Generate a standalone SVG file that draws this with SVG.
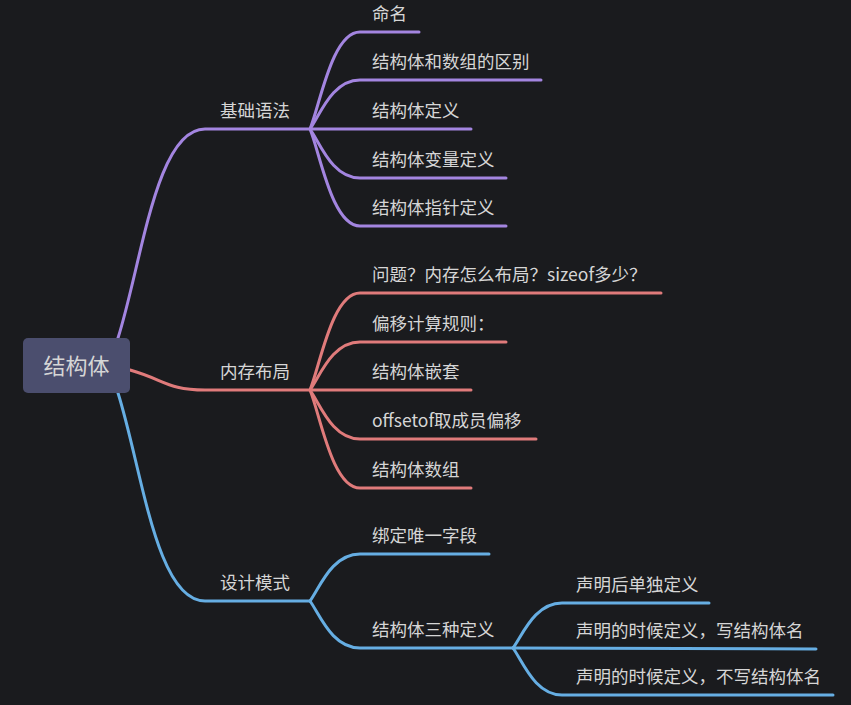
<svg xmlns="http://www.w3.org/2000/svg" width="851" height="705" viewBox="0 0 851 705">
<style>
text{font-family:"Noto Sans CJK SC","Noto Sans",sans-serif;fill:#d6d6d6;font-size:17.5px}
.l{fill:none;stroke-width:3;stroke-linecap:round}
.p{stroke:#a385e0}
.r{stroke:#e07b7b}
.b{stroke:#66aee3}
.root{font-size:22px}
</style>
<rect width="851" height="705" fill="#1a1b1e"/>
<g id="connectors">
<path class="l p" d="M118,338 C142,262 156,129 205,129 L310,129"/>
<path class="l r" d="M130,370 C165,380 168,390 205,390 L310,390"/>
<path class="l b" d="M118,393 C142,469 156,601 205,601 L310,601"/>
<path class="l p" d="M310,129 C320,105 332,32 360,32 L419,32"/>
<path class="l p" d="M310,129 C320,115 332,80 360,80 L541,80"/>
<path class="l p" d="M310,129 L471,129"/>
<path class="l p" d="M310,129 C320,143 332,178 360,178 L506,178"/>
<path class="l p" d="M310,129 C320,153 332,226 360,226 L506,226"/>
<path class="l r" d="M310,390 C320,366 332,293 360,293 L661,293"/>
<path class="l r" d="M310,390 C320,376 332,342 360,342 L506,342"/>
<path class="l r" d="M310,390 L471,390"/>
<path class="l r" d="M310,390 C320,404 332,439 360,439 L536,439"/>
<path class="l r" d="M310,390 C320,414 332,488 360,488 L471,488"/>
<path class="l b" d="M310,601 C320,587 332,554 360,554 L489,554"/>
<path class="l b" d="M310,601 C320,615 332,648 360,648 L513,648"/>
<path class="l b" d="M513,648 C523,634 535,603 562,603 L709,603"/>
<path class="l b" d="M513,648 L816,649"/>
<path class="l b" d="M513,648 C523,662 535,695 562,695 L833,695"/>
</g>
<g id="root"><rect x="23" y="338" width="107" height="55" rx="5" fill="#4b4e6e"/><text class="root" x="76.5" y="374" text-anchor="middle">结构体</text></g>
<g id="n1"><text x="220" y="117">基础语法</text></g>
<g id="n1a"><text x="372" y="20">命名</text></g>
<g id="n1b"><text x="372" y="68">结构体和数组的区别</text></g>
<g id="n1c"><text x="372" y="117">结构体定义</text></g>
<g id="n1d"><text x="372" y="166">结构体变量定义</text></g>
<g id="n1e"><text x="372" y="214">结构体指针定义</text></g>
<g id="n2"><text x="220" y="378">内存布局</text></g>
<g id="n2a"><text x="372" y="281">问题？内存怎么布局？sizeof多少？</text></g>
<g id="n2b"><text x="372" y="330">偏移计算规则：</text></g>
<g id="n2c"><text x="372" y="378">结构体嵌套</text></g>
<g id="n2d"><text x="372" y="427">offsetof取成员偏移</text></g>
<g id="n2e"><text x="372" y="476">结构体数组</text></g>
<g id="n3"><text x="220" y="589">设计模式</text></g>
<g id="n3a"><text x="372" y="542">绑定唯一字段</text></g>
<g id="n3b"><text x="372" y="636">结构体三种定义</text></g>
<g id="n3b1"><text x="576" y="591">声明后单独定义</text></g>
<g id="n3b2"><text x="576" y="637">声明的时候定义，写结构体名</text></g>
<g id="n3b3"><text x="576" y="683">声明的时候定义，不写结构体名</text></g>
</svg>
